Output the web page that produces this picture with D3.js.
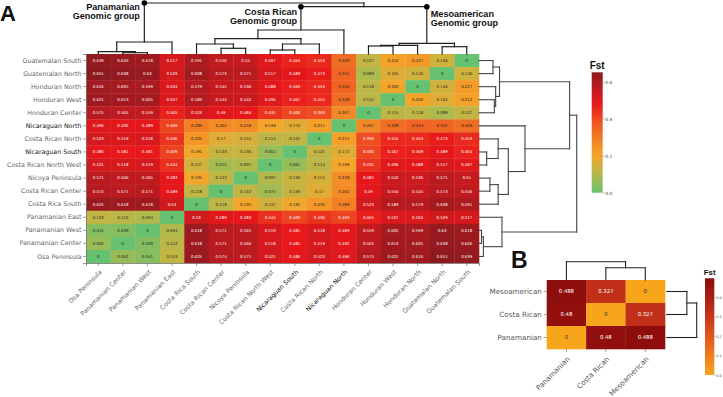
<!DOCTYPE html>
<html><head><meta charset="utf-8">
<script src="https://cdn.jsdelivr.net/npm/d3@7"></script>
<style>body{margin:0;background:#fff}svg{display:block}</style>
</head><body>
<svg id="c" width="723" height="397"></svg>
<script>
// ---------- DATA ----------
const rowsA = ["Guatemalan South","Guatemalan North","Honduran North","Honduran West","Honduran Center",
  "Nicaraguan North","Costa Rican North","Nicaraguan South","Costa Rican North West","Nicoya Peninsula",
  "Costa Rican Center","Costa Rica South","Panamanian East","Panamanian West","Panamanian Center","Osa Peninsula"];
const colsA = rowsA.slice().reverse();
const fstA = [
 [0.639,0.626,0.618,0.517,0.591,0.556,0.55,0.497,0.464,0.453,0.329,0.127,0.212,0.227,0.146,0],
 [0.651,0.638,0.63,0.529,0.608,0.573,0.571,0.517,0.489,0.473,0.341,0.089,0.165,0.146,0,0.146],
 [0.616,0.605,0.599,0.504,0.579,0.545,0.536,0.488,0.469,0.453,0.344,0.118,0.202,0,0.146,0.227],
 [0.621,0.613,0.605,0.507,0.583,0.544,0.542,0.496,0.467,0.455,0.328,0.115,0,0.202,0.165,0.212],
 [0.575,0.565,0.559,0.465,0.523,0.49,0.484,0.435,0.406,0.393,0.267,0,0.115,0.118,0.089,0.127],
 [0.496,0.492,0.489,0.409,0.289,0.262,0.258,0.199,0.172,0.211,0,0.267,0.328,0.344,0.341,0.329],
 [0.523,0.519,0.518,0.436,0.235,0.17,0.155,0.114,0.121,0,0.211,0.393,0.455,0.453,0.473,0.453],
 [0.486,0.481,0.481,0.409,0.191,0.133,0.136,0.061,0,0.121,0.172,0.406,0.467,0.469,0.489,0.464],
 [0.521,0.518,0.519,0.444,0.147,0.075,0.097,0,0.061,0.114,0.199,0.435,0.496,0.488,0.517,0.497],
 [0.571,0.566,0.565,0.483,0.195,0.122,0,0.097,0.136,0.155,0.258,0.484,0.542,0.536,0.571,0.55],
 [0.574,0.571,0.571,0.489,0.118,0,0.122,0.075,0.133,0.17,0.262,0.49,0.544,0.545,0.573,0.556],
 [0.625,0.618,0.618,0.53,0,0.118,0.195,0.147,0.191,0.235,0.289,0.523,0.583,0.579,0.608,0.591],
 [0.123,0.112,0.094,0,0.53,0.489,0.483,0.444,0.409,0.436,0.409,0.465,0.507,0.504,0.529,0.517],
 [0.041,0.039,0,0.094,0.618,0.571,0.565,0.519,0.481,0.518,0.489,0.559,0.605,0.599,0.63,0.618],
 [0.062,0,0.039,0.112,0.618,0.571,0.566,0.518,0.481,0.519,0.492,0.565,0.613,0.605,0.638,0.626],
 [0,0.062,0.041,0.123,0.625,0.574,0.571,0.521,0.486,0.523,0.496,0.575,0.621,0.616,0.651,0.639]
];
const darkLabels = ["Nicaraguan North","Nicaraguan South"];
const ticksA = [0,0.2,0.4,0.6];
const maxA = 0.651;
// dendrogram (merge heights, arbitrary distance units)
const treeA = {h:51,c:[
  {h:12,g:"Panamanian",c:[{h:2.3,c:["Osa Peninsula",{h:1.3,c:["Panamanian Center","Panamanian West"]}]},"Panamanian East"]},
  {h:47.3,c:[
    {h:24,g:"Costa Rican",c:[
      {h:15.3,c:[
        {h:10,c:["Costa Rica South",{h:5.7,c:["Costa Rican Center","Nicoya Peninsula"]}]},
        {h:10,c:[{h:4,c:["Costa Rican North West","Nicaraguan South"]},"Costa Rican North"]}]},
      "Nicaraguan North"]},
    {h:10.7,g:"Mesoamerican",c:[
      {h:8.7,c:[{h:8,c:["Honduran Center","Honduran West"]},"Honduran North"]},
      {h:7.3,c:["Guatemalan North","Guatemalan South"]}]}
  ]}
]};
const rowsB = ["Mesoamerican","Costa Rican","Panamanian"];
const colsB = ["Panamanian","Costa Rican","Mesoamerican"];
const fstB = [[0.488,0.327,0],[0.48,0,0.327],[0,0.48,0.488]];
const ticksB = [0,0.1,0.2,0.3,0.4];
const maxB = 0.498;
const treeB = {h:18.3,c:["Panamanian",{h:12.3,c:["Costa Rican","Mesoamerican"]}]};

// ---------- RENDER ----------
const svg = d3.select("#c");
const LAB = "DejaVu Sans, sans-serif", BOLD = "Liberation Sans, Arial, sans-serif";

const colorA = d3.scaleLinear()
  .domain([0,0.08,0.15,0.2,0.3,0.4,0.48,0.56,0.651])
  .range(["#66c170","#a6bb50","#d2b13d","#f5a52a","#f17b25","#ee4a21","#e8181b","#c01b1f","#8c1a1f"])
  .interpolate(d3.interpolateRgb).clamp(true);
const colorB = d3.scaleLinear()
  .domain([0,0.15,0.3,0.498])
  .range(["#f7a61c","#ea6a1e","#c8341a","#8b0c0c"])
  .interpolate(d3.interpolateRgb).clamp(true);

function layoutTree(tree, leafPos){
  const segs=[], dots=[];
  function rec(n, parentH){
    if (typeof n === "string") return {pos:leafPos(n), h:0};
    const kids = n.c.map(k=>rec(k, n.h));
    const pos = d3.mean(kids, k=>k.pos);
    kids.forEach(k=>segs.push([[k.pos,k.h],[k.pos,n.h]]));
    segs.push([[d3.min(kids,k=>k.pos),n.h],[d3.max(kids,k=>k.pos),n.h]]);
    if (n.g) dots.push({pos, h:parentH, g:n.g});
    return {pos, h:n.h};
  }
  rec(tree, tree.h);
  return {segs, dots};
}
function drawTree(g, tree, leafPos, hScale, orient, color, width){
  const L = layoutTree(tree, leafPos);
  const pt = orient==="top" ? (p=>[p[0], hScale(p[1])]) : (p=>[hScale(p[1]), p[0]]);
  g.selectAll("line.d").data(L.segs).join("line")
    .attr("x1",s=>pt(s[0])[0]).attr("y1",s=>pt(s[0])[1])
    .attr("x2",s=>pt(s[1])[0]).attr("y2",s=>pt(s[1])[1])
    .attr("stroke",color).attr("stroke-width",width).attr("stroke-linecap","square");
  return L;
}

// ===== Panel A =====
const A = {x0:86, x1:479, y0:54, y1:263};
const xA = d3.scaleBand().domain(colsA).range([A.x0,A.x1]);
const yA = d3.scaleBand().domain(rowsA).range([A.y0,A.y1]);
const cellsA = [];
rowsA.forEach((r,i)=>colsA.forEach((c,j)=>cellsA.push({r,c,v:fstA[i][j]})));
const gA = svg.append("g");
gA.selectAll("rect").data(cellsA).join("rect")
  .attr("x",d=>xA(d.c)).attr("y",d=>yA(d.r))
  .attr("width",xA.bandwidth()+0.3).attr("height",yA.bandwidth()+0.3)
  .attr("fill",d=>colorA(d.v));
gA.selectAll("text").data(cellsA).join("text")
  .attr("x",d=>xA(d.c)+xA.bandwidth()/2).attr("y",d=>yA(d.r)+yA.bandwidth()/2)
  .attr("dy","0.36em").attr("text-anchor","middle")
  .attr("font-family",LAB).attr("font-size",3.9)
  .attr("fill",d=>d.v>0.36?"#fff":"#222")
  .text(d=>d.v===0?"0":String(d.v));

// axes A
const axL = svg.append("g").attr("transform",`translate(${A.x0},0)`)
  .call(d3.axisLeft(yA).tickSize(3).tickPadding(1.5));
const axB = svg.append("g").attr("transform",`translate(0,${A.y1})`)
  .call(d3.axisBottom(xA).tickSize(3));
[axL,axB].forEach(ax=>{
  ax.select(".domain").attr("stroke","#777").attr("stroke-width",0.8);
  ax.selectAll(".tick line").attr("stroke","#777").attr("stroke-width",0.7);
  ax.selectAll("text").attr("font-family",LAB).attr("font-size",6.3)
    .style("fill",d=>darkLabels.includes(d)?"#111":"#666");
});
axB.selectAll("text").attr("y",0).attr("dy",0).attr("text-anchor","end")
  .attr("transform","translate(4,9.5) rotate(-45)");

// dendrograms A
const colPos = n=>xA(n)+xA.bandwidth()/2;
const rowPos = n=>yA(n)+yA.bandwidth()/2;
const hColA = d3.scaleLinear().domain([0,51]).range([A.y0,3]);
const hRowA = d3.scaleLinear().domain([0,51]).range([A.x1,576.7]);
const gTop = svg.append("g");
const Ltop = drawTree(gTop, treeA, colPos, hColA, "top", "#222", 1.2);
drawTree(svg.append("g"), treeA, rowPos, hRowA, "right", "#444", 1.1);
gTop.selectAll("circle").data(Ltop.dots).join("circle")
  .attr("cx",d=>d.pos).attr("cy",d=>hColA(d.h)).attr("r",2.8).attr("fill","#000");
// group labels
const grpLab = {
  "Panamanian":{dx:-4.5, y:10, anchor:"end"},
  "Costa Rican":{dx:-3.8, y:14.8, anchor:"end"},
  "Mesoamerican":{dx:4, y:16.7, anchor:"start"}
};
Ltop.dots.forEach(d=>{
  const o = grpLab[d.g];
  [d.g, "Genomic group"].forEach((txt,k)=>{
    svg.append("text").attr("x",d.pos+o.dx).attr("y",o.y+k*8.9).attr("text-anchor",o.anchor)
      .attr("font-family",BOLD).attr("font-weight","bold").attr("font-size",9.1).attr("fill","#111").text(txt);
  });
});
svg.append("text").attr("x",0).attr("y",21).attr("font-family",BOLD).attr("font-weight","bold")
  .attr("font-size",22).attr("fill","#111").text("A");

// legend A
const defs = svg.append("defs");
function gradient(id, scale, max){
  const lg = defs.append("linearGradient").attr("id",id).attr("x1",0).attr("y1",1).attr("x2",0).attr("y2",0);
  d3.range(0,1.0001,0.05).forEach(t=>lg.append("stop").attr("offset",t).attr("stop-color",scale(t*max)));
}
gradient("gA", colorA, maxA);
const legA = {x:591.7, w:11, y0:72.3, y1:192.7};
const lsA = d3.scaleLinear().domain([0,maxA]).range([legA.y1,legA.y0]);
svg.append("rect").attr("x",legA.x).attr("y",legA.y0).attr("width",legA.w).attr("height",legA.y1-legA.y0)
  .attr("fill","url(#gA)");
const laxA = svg.append("g").attr("transform",`translate(${legA.x+legA.w},0)`)
  .call(d3.axisRight(lsA).tickValues(ticksA).tickFormat(d3.format(".1f")).tickSize(1.5).tickPadding(1));
laxA.select(".domain").remove();
laxA.selectAll("line").attr("stroke","#666").attr("stroke-width",0.6);
laxA.selectAll("text").attr("font-family",LAB).attr("font-size",4.5).style("fill","#444");
svg.append("text").attr("x",legA.x+legA.w/2).attr("y",68.5).attr("text-anchor","middle")
  .attr("font-family",BOLD).attr("font-weight","bold").attr("font-size",10).attr("fill","#111").text("Fst");

// ===== Panel B =====
const B = {x0:546.7, x1:665, y0:280, y1:349};
const xB = d3.scaleBand().domain(colsB).range([B.x0,B.x1]);
const yB = d3.scaleBand().domain(rowsB).range([B.y0,B.y1]);
const cellsB = [];
rowsB.forEach((r,i)=>colsB.forEach((c,j)=>cellsB.push({r,c,v:fstB[i][j]})));
svg.append("g").selectAll("rect").data(cellsB).join("rect")
  .attr("x",d=>xB(d.c)).attr("y",d=>yB(d.r))
  .attr("width",xB.bandwidth()+0.3).attr("height",yB.bandwidth()+0.3)
  .attr("fill",d=>colorB(d.v));
svg.append("g").selectAll("text").data(cellsB).join("text")
  .attr("x",d=>xB(d.c)+xB.bandwidth()/2).attr("y",d=>yB(d.r)+yB.bandwidth()/2)
  .attr("dy","0.36em").attr("text-anchor","middle")
  .attr("font-family",LAB).attr("font-size",5.3)
  .attr("fill",d=>d.v>0.2?"#fff":"#333")
  .text(d=>d.v===0?"0":String(d.v));
const bL = svg.append("g").attr("transform",`translate(${B.x0},0)`)
  .call(d3.axisLeft(yB).tickSize(3).tickPadding(1.8));
const bB = svg.append("g").attr("transform",`translate(0,${B.y1})`)
  .call(d3.axisBottom(xB).tickSize(3));
[bL,bB].forEach(ax=>{
  ax.select(".domain").remove();
  ax.selectAll(".tick line").attr("stroke","#777").attr("stroke-width",0.7);
  ax.selectAll("text").attr("font-family",LAB).attr("font-size",7.2).style("fill","#555");
});
bB.selectAll("text").attr("y",0).attr("dy",0).attr("text-anchor","end")
  .attr("transform","translate(4,10.5) rotate(-45)");
const colPosB = n=>xB(n)+xB.bandwidth()/2;
const rowPosB = n=>yB(n)+yB.bandwidth()/2;
const hColB = d3.scaleLinear().domain([0,18.3]).range([B.y0,261.7]);
const hRowB = d3.scaleLinear().domain([0,18.3]).range([B.x1+1.7,696.7]);
drawTree(svg.append("g"), treeB, colPosB, hColB, "top", "#222", 1.1);
drawTree(svg.append("g"), treeB, rowPosB, hRowB, "right", "#222", 1.1);
svg.append("text").attr("x",511).attr("y",268).attr("font-family",BOLD).attr("font-weight","bold")
  .attr("font-size",23).attr("fill","#111").text("B");

// legend B
gradient("gB", colorB, maxB);
const legB = {x:705, w:9.3, y0:278.3, y1:375};
const lsB = d3.scaleLinear().domain([0,maxB]).range([legB.y1,legB.y0]);
svg.append("rect").attr("x",legB.x).attr("y",legB.y0).attr("width",legB.w).attr("height",legB.y1-legB.y0)
  .attr("fill","url(#gB)");
const laxB = svg.append("g").attr("transform",`translate(${legB.x+legB.w},0)`)
  .call(d3.axisRight(lsB).tickValues(ticksB).tickFormat(d3.format(".1f")).tickSize(1.2).tickPadding(0.8));
laxB.select(".domain").remove();
laxB.selectAll("line").attr("stroke","#666").attr("stroke-width",0.5);
laxB.selectAll("text").attr("font-family",LAB).attr("font-size",3.4).style("fill","#444");
svg.append("text").attr("x",legB.x+legB.w/2).attr("y",275).attr("text-anchor","middle")
  .attr("font-family",BOLD).attr("font-weight","bold").attr("font-size",7.8).attr("fill","#111").text("Fst");
</script>
</body></html>
